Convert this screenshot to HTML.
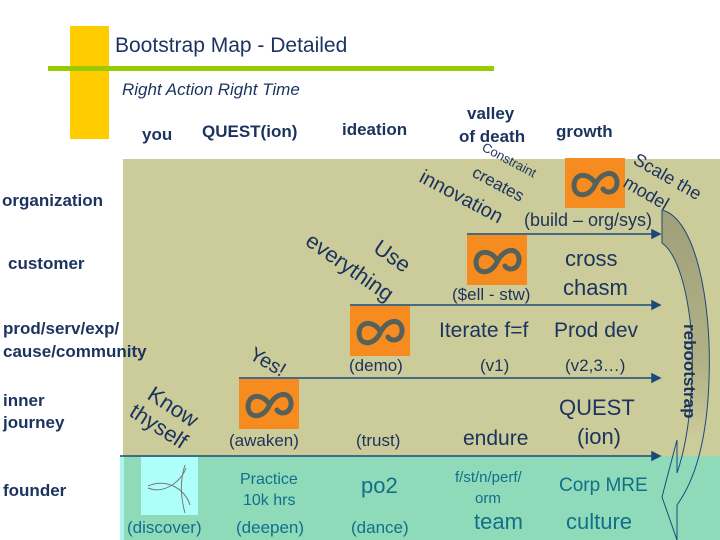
<!DOCTYPE html>
<html><head><meta charset="utf-8"><style>
body{margin:0;width:720px;height:540px;overflow:hidden;background:#fff}
svg{display:block}
text{font-family:"Liberation Sans",Arial,sans-serif;fill:#1b335e}
.b{font-weight:bold}
.t{fill:#116f8c}
</style></head><body>
<svg width="720" height="540" viewBox="0 0 720 540" xmlns="http://www.w3.org/2000/svg">
<defs>
<g id="lg">
<rect x="0" y="0" width="60" height="50" fill="#f68b1f"/>
<path d="M30,25 C24,15 10,14 9,27 C9,40 24,40 30,27 C36,14 50,11 52,23 C53,34 42,37 38,31" fill="none" stroke="#56615a" stroke-width="5" stroke-linecap="round"/>
</g>
<linearGradient id="gr" x1="0" y1="210" x2="0" y2="540" gradientUnits="userSpaceOnUse">
<stop offset="0" stop-color="#a09f78" stop-opacity="1"/>
<stop offset="0.45" stop-color="#a09f78" stop-opacity="0.6"/>
<stop offset="0.7" stop-color="#a09f78" stop-opacity="0"/>
</linearGradient>
</defs>
<rect x="70" y="26" width="39" height="113" fill="#ffcc00"/>
<rect x="48" y="66" width="446" height="5" fill="#99cc00"/>
<text x="115" y="52" font-size="21">Bootstrap Map - Detailed</text>
<text x="122" y="95" font-size="17" font-style="italic">Right Action Right Time</text>
<g class="b" font-size="17">
<text x="142" y="140" class="b">you</text>
<text x="202" y="137" class="b">QUEST(ion)</text>
<text x="342" y="135" class="b">ideation</text>
<text x="467" y="119" class="b">valley</text>
<text x="459" y="142" class="b">of death</text>
<text x="556" y="137" class="b">growth</text>
</g>
<rect x="123" y="159" width="597" height="297" fill="#cccb9a"/>
<rect x="120" y="456" width="600" height="84" fill="#8fdbb9"/>
<rect x="120" y="456" width="4" height="84" fill="#aaf7ef"/>
<rect x="141" y="457" width="57" height="58" fill="#aefffa"/>
<path d="M148,486 C165,478 185,488 190,505 M185,465 C180,480 180,495 185,513 M148,488 C165,495 182,480 186,468" fill="none" stroke="#777" stroke-width="1"/>
<g font-size="17" class="b">
<text x="2" y="206" class="b">organization</text>
<text x="8" y="269" class="b">customer</text>
<text x="3" y="334" class="b">prod/serv/exp/</text>
<text x="3" y="357" class="b">cause/community</text>
<text x="3" y="406" class="b">inner</text>
<text x="3" y="428" class="b">journey</text>
<text x="3" y="496" class="b">founder</text>
</g>
<g stroke="#1b4a7a" stroke-width="1.5" fill="#1b4a7a">
<line x1="467" y1="234" x2="655" y2="234"/><path d="M660,234 l-8,-4 v8z"/>
<line x1="350" y1="305" x2="655" y2="305"/><path d="M660,305 l-8,-4 v8z"/>
<line x1="239" y1="378" x2="655" y2="378"/><path d="M660,378 l-8,-4 v8z"/>
<line x1="120" y1="456" x2="655" y2="456"/><path d="M660,456 l-8,-4 v8z"/>
</g>
<path d="M662,210 C695,218 712,300 709,380 C707,440 695,480 677,505 L677,540 L662,497 L677,440 L677,473 C692,430 695,360 690,320 C685,280 675,252 662,243 Z" fill="url(#gr)" stroke="#1b4a7a" stroke-width="1"/>
<use href="#lg" x="565" y="158"/>
<use href="#lg" x="467" y="235"/>
<use href="#lg" x="350" y="306"/>
<use href="#lg" x="239" y="379"/>
<text font-size="13" transform="translate(481,150) rotate(28)">Constraint</text>
<text font-size="17" transform="translate(471,176) rotate(28)">creates</text>
<text font-size="20" transform="translate(418,181) rotate(28)">innovation</text>
<text font-size="18" transform="translate(632,163) rotate(30)">Scale the</text>
<text font-size="18" transform="translate(622,186) rotate(30)">model</text>
<text font-size="18" x="524" y="226">(build – org/sys)</text>
<text font-size="22" transform="translate(372,251) rotate(35)">Use</text>
<text font-size="22" transform="translate(304,244) rotate(35)">everything</text>
<text font-size="20" transform="translate(248,358) rotate(30)">Yes!</text>
<text font-size="22" transform="translate(146,398) rotate(33)">Know</text>
<text font-size="22" transform="translate(128,415) rotate(33)">thyself</text>
<text font-size="17" x="452" y="300">($ell - stw)</text>
<text font-size="22" x="565" y="266">cross</text>
<text font-size="22" x="563" y="295">chasm</text>
<text font-size="21" x="439" y="337">Iterate f=f</text>
<text font-size="21" x="554" y="337">Prod dev</text>
<text font-size="17" x="349" y="371">(demo)</text>
<text font-size="17" x="480" y="371">(v1)</text>
<text font-size="17" x="565" y="371">(v2,3…)</text>
<text font-size="17" class="b" transform="translate(684,324) rotate(90)">rebootstrap</text>
<text font-size="17" x="229" y="446">(awaken)</text>
<text font-size="17" x="356" y="446">(trust)</text>
<text font-size="21" x="463" y="445">endure</text>
<text font-size="22" x="559" y="415">QUEST</text>
<text font-size="22" x="577" y="444">(ion)</text>
<text font-size="16" class="t" x="240" y="484">Practice</text>
<text font-size="16" class="t" x="243" y="505">10k hrs</text>
<text font-size="22" class="t" x="361" y="493">po2</text>
<text font-size="15" class="t" x="455" y="482">f/st/n/perf/</text>
<text font-size="15" class="t" x="475" y="503">orm</text>
<text font-size="19" class="t" x="559" y="491">Corp MRE</text>
<text font-size="17" class="t" x="127" y="533">(discover)</text>
<text font-size="17" class="t" x="236" y="533">(deepen)</text>
<text font-size="17" class="t" x="351" y="533">(dance)</text>
<text font-size="22" class="t" x="474" y="529">team</text>
<text font-size="22" class="t" x="566" y="529">culture</text>
</svg>
</body></html>
